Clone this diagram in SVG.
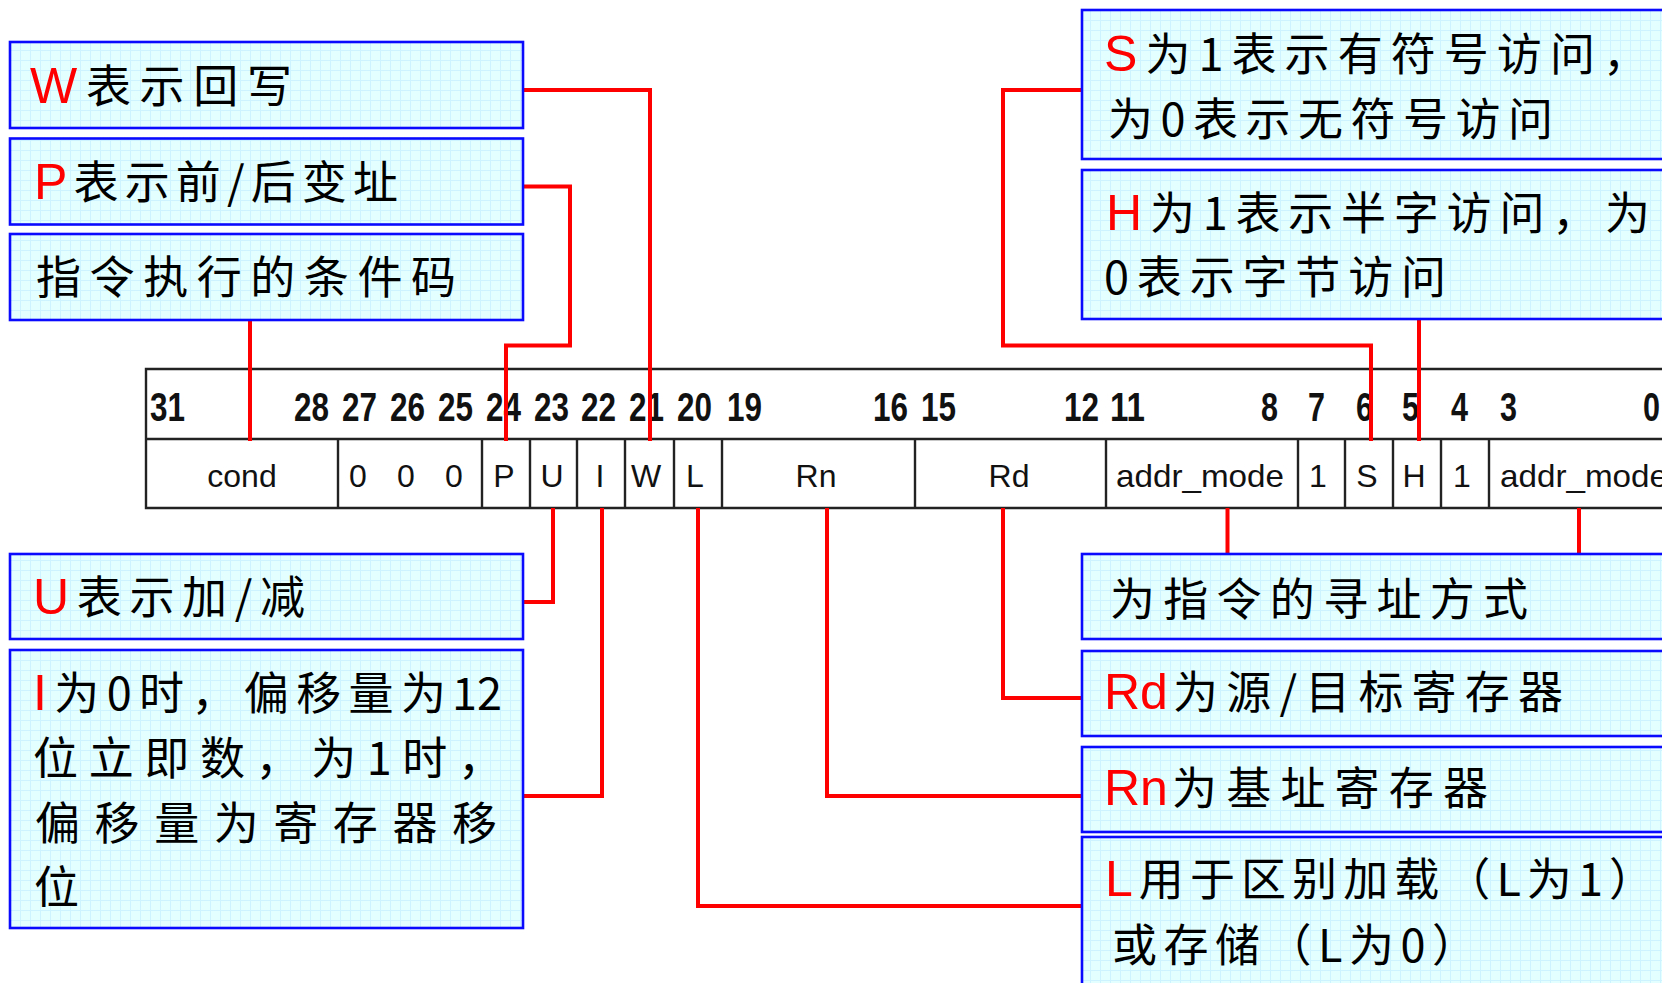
<svg xmlns="http://www.w3.org/2000/svg" width="1662" height="983" viewBox="0 0 1662 983">
<defs>
<pattern id="grid" patternUnits="userSpaceOnUse" width="10" height="10">
<rect width="10" height="10" fill="#E4FFFF"/>
<path d="M0,0.5H10M0.5,0V10" stroke="#CCF3FF" stroke-width="1" fill="none"/>
</pattern>
<style>
.box{fill:url(#grid);stroke:#0A0AFF;stroke-width:2.6}
.t{font-family:"Noto Sans CJK SC","Noto Sans CJK JP",sans-serif;font-size:45px;fill:#000}
.r{font-family:"Liberation Sans",Arial,sans-serif;font-size:50px;fill:#FF0000}
.num{font-family:"Liberation Sans",Arial,sans-serif;font-size:40px;font-weight:bold;fill:#111}
.fld{font-family:"Liberation Sans",Arial,sans-serif;font-size:32px;fill:#111;text-anchor:middle}
.tbl{stroke:#222;stroke-width:2.4;fill:none}
.con{stroke:#FF0000;stroke-width:4;fill:none}
</style>
</defs>
<rect width="1662" height="983" fill="#FFFFFF"/>

<g id="register-table">
<path class="tbl" d="M1700,369H146V508H1700M146,439H1700"/>
<path class="tbl" d="M338,439V508M482,439V508M530,439V508M577,439V508M625,439V508M674,439V508M722,439V508M915,439V508M1106,439V508M1298,439V508M1345,439V508M1393,439V508M1441,439V508M1489,439V508"/>
<text class="num" x="150" y="421" textLength="35" lengthAdjust="spacingAndGlyphs">31</text>
<text class="num" x="294" y="421" textLength="35" lengthAdjust="spacingAndGlyphs">28</text>
<text class="num" x="342" y="421" textLength="35" lengthAdjust="spacingAndGlyphs">27</text>
<text class="num" x="390" y="421" textLength="35" lengthAdjust="spacingAndGlyphs">26</text>
<text class="num" x="438" y="421" textLength="35" lengthAdjust="spacingAndGlyphs">25</text>
<text class="num" x="486" y="421" textLength="35" lengthAdjust="spacingAndGlyphs">24</text>
<text class="num" x="534" y="421" textLength="35" lengthAdjust="spacingAndGlyphs">23</text>
<text class="num" x="581" y="421" textLength="35" lengthAdjust="spacingAndGlyphs">22</text>
<text class="num" x="629" y="421" textLength="35" lengthAdjust="spacingAndGlyphs">21</text>
<text class="num" x="677" y="421" textLength="35" lengthAdjust="spacingAndGlyphs">20</text>
<text class="num" x="727" y="421" textLength="35" lengthAdjust="spacingAndGlyphs">19</text>
<text class="num" x="873" y="421" textLength="35" lengthAdjust="spacingAndGlyphs">16</text>
<text class="num" x="921" y="421" textLength="35" lengthAdjust="spacingAndGlyphs">15</text>
<text class="num" x="1064" y="421" textLength="35" lengthAdjust="spacingAndGlyphs">12</text>
<text class="num" x="1110" y="421" textLength="35" lengthAdjust="spacingAndGlyphs">11</text>
<text class="num" x="1261" y="421" textLength="17" lengthAdjust="spacingAndGlyphs">8</text>
<text class="num" x="1308" y="421" textLength="17" lengthAdjust="spacingAndGlyphs">7</text>
<text class="num" x="1356" y="421" textLength="17" lengthAdjust="spacingAndGlyphs">6</text>
<text class="num" x="1402" y="421" textLength="17" lengthAdjust="spacingAndGlyphs">5</text>
<text class="num" x="1451" y="421" textLength="17" lengthAdjust="spacingAndGlyphs">4</text>
<text class="num" x="1500" y="421" textLength="17" lengthAdjust="spacingAndGlyphs">3</text>
<text class="num" x="1643" y="421" textLength="17" lengthAdjust="spacingAndGlyphs">0</text>
<text class="fld" x="242" y="487">cond</text>
<text class="fld" x="358" y="487">0</text>
<text class="fld" x="406" y="487">0</text>
<text class="fld" x="454" y="487">0</text>
<text class="fld" x="504" y="487">P</text>
<text class="fld" x="552" y="487">U</text>
<text class="fld" x="600" y="487">I</text>
<text class="fld" x="646" y="487">W</text>
<text class="fld" x="695" y="487">L</text>
<text class="fld" x="816" y="487">Rn</text>
<text class="fld" x="1009" y="487">Rd</text>
<text class="fld" x="1200" y="487" textLength="168" lengthAdjust="spacingAndGlyphs">addr_mode</text>
<text class="fld" x="1318" y="487">1</text>
<text class="fld" x="1367" y="487">S</text>
<text class="fld" x="1414" y="487">H</text>
<text class="fld" x="1462" y="487">1</text>
<text class="fld" x="1500" y="487" style="text-anchor:start" textLength="168" lengthAdjust="spacingAndGlyphs">addr_mode</text>
</g>

<g id="connectors">
<path class="con" d="M523,90H650V441"/>
<path class="con" d="M523,186.5H570V345.5H506V441"/>
<path class="con" d="M250,320V441"/>
<path class="con" d="M1082,90H1003V345.5H1371V441"/>
<path class="con" d="M1419,319V441"/>
<path class="con" d="M553,508V602H523"/>
<path class="con" d="M602,508V796H523"/>
<path class="con" d="M698,508V906H1082"/>
<path class="con" d="M827,508V796H1082"/>
<path class="con" d="M1003,508V698H1082"/>
<path class="con" d="M1227.5,508V554"/>
<path class="con" d="M1579,508V554"/>
</g>

<g id="box-W">
<rect class="box" x="10" y="42" width="513" height="86"/>
<text class="t" x="30" y="103" textLength="262" lengthAdjust="spacing"><tspan class="r">W</tspan>表示回写</text>
</g>
<g id="box-P">
<rect class="box" x="10" y="138.5" width="513" height="86"/>
<text class="t" x="34" y="199" textLength="364" lengthAdjust="spacing"><tspan class="r">P</tspan>表示前/后变址</text>
</g>
<g id="box-cond">
<rect class="box" x="10" y="234" width="513" height="86"/>
<text class="t" x="36" y="294" textLength="420" lengthAdjust="spacing">指令执行的条件码</text>
</g>
<g id="box-U">
<rect class="box" x="10" y="554" width="513" height="85"/>
<text class="t" x="33" y="614" textLength="272" lengthAdjust="spacing"><tspan class="r">U</tspan>表示加/减</text>
</g>
<g id="box-I">
<rect class="box" x="10" y="650" width="513" height="278"/>
<text class="t" x="33" y="710" textLength="413" lengthAdjust="spacing"><tspan class="r">I</tspan>为0时，偏移量为</text>
<text class="t" x="452" y="710">12</text>
<text class="t" x="33" y="775" textLength="470" lengthAdjust="spacing">位立即数，为1时，</text>
<text class="t" x="35" y="840" textLength="462" lengthAdjust="spacing">偏移量为寄存器移</text>
<text class="t" x="34" y="904">位</text>
</g>
<g id="box-S">
<rect class="box" x="1082" y="10" width="620" height="149"/>
<text class="t" x="1104" y="71" textLength="544" lengthAdjust="spacing"><tspan class="r">S</tspan>为1表示有符号访问，</text>
<text class="t" x="1108" y="136" textLength="445" lengthAdjust="spacing">为0表示无符号访问</text>
</g>
<g id="box-H">
<rect class="box" x="1082" y="170" width="620" height="149"/>
<text class="t" x="1106" y="230" textLength="544" lengthAdjust="spacing"><tspan class="r">H</tspan>为1表示半字访问，为</text>
<text class="t" x="1104" y="294" textLength="342" lengthAdjust="spacing">0表示字节访问</text>
</g>
<g id="box-addr">
<rect class="box" x="1082" y="554" width="620" height="85"/>
<text class="t" x="1110" y="616" textLength="418" lengthAdjust="spacing">为指令的寻址方式</text>
</g>
<g id="box-Rd">
<rect class="box" x="1082" y="651" width="620" height="85"/>
<text class="r" x="1104" y="709">Rd</text>
<text class="t" x="1173" y="709" textLength="390" lengthAdjust="spacing">为源/目标寄存器</text>
</g>
<g id="box-Rn">
<rect class="box" x="1082" y="747" width="620" height="85"/>
<text class="r" x="1104" y="805">Rn</text>
<text class="t" x="1172" y="805" textLength="316" lengthAdjust="spacing">为基址寄存器</text>
</g>
<g id="box-L">
<rect class="box" x="1082" y="837" width="620" height="200"/>
<text class="t" x="1105" y="896" textLength="549" lengthAdjust="spacing"><tspan class="r">L</tspan>用于区别加载（L为1）</text>
<text class="t" x="1112" y="962" textLength="365" lengthAdjust="spacing">或存储（L为0）</text>
</g>
</svg>
